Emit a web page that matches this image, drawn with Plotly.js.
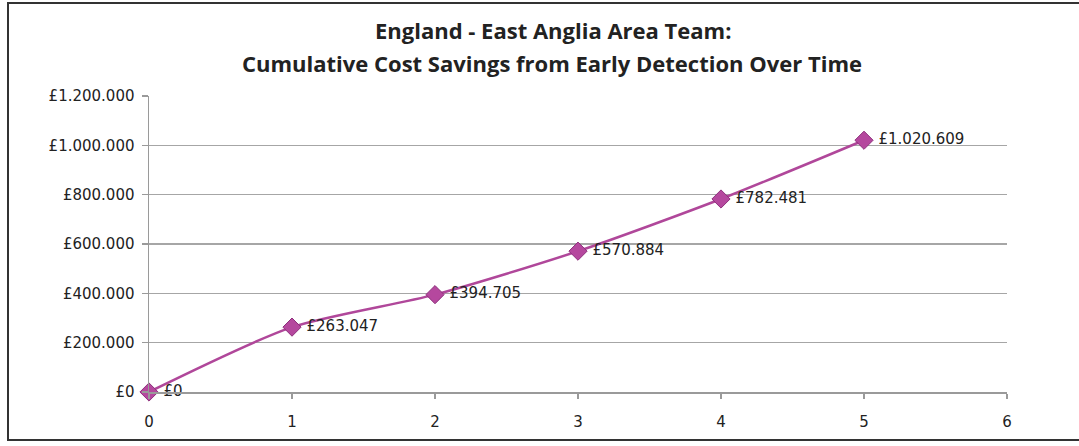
<!DOCTYPE html>
<html>
<head>
<meta charset="utf-8">
<script src="https://cdn.plot.ly/plotly-3.0.1.min.js"></script>
<style>
html,body{margin:0;padding:0;background:#fff;}
#chart{width:1079px;height:446px;}
</style>
</head>
<body>
<div id="chart"></div>
<script>
var years = [0, 1, 2, 3, 4, 5];
var savings = [0, 263047, 394705, 570884, 782481, 1020609];
var labels = ['£0', '£263.047', '£394.705', '£570.884', '£782.481', '£1.020.609'];
var yTickVals = [0, 200000, 400000, 600000, 800000, 1000000, 1200000];
var yTickText = ['£0', '£200.000', '£400.000', '£600.000', '£800.000', '£1.000.000', '£1.200.000'];
var xTickVals = [0, 1, 2, 3, 4, 5, 6];
var titleLines = ['England - East Anglia Area Team:', 'Cumulative Cost Savings from Early Detection Over Time'];

var trace = {
  x: years, y: savings, text: labels.map(function (s) { return '\u00a0' + s; }),
  type: 'scatter', mode: 'lines+markers+text',
  textposition: 'middle right',
  textfont: {family: '"DejaVu Sans", sans-serif', size: 15, color: '#222'},
  line: {color: '#B0479A', width: 2.5, shape: 'spline', smoothing: 0.7},
  marker: {symbol: 'diamond', size: 14, color: '#B5489E', line: {color: '#8E2F7C', width: 1}},
  cliponaxis: false,
  hoverinfo: 'none'
};

var W = 858, H = 296;
function py(p) { return (392 - p) / H; }
function px(p) { return (p - 149) / W; }

var layout = {
  width: 1079, height: 446,
  margin: {l: 149, r: 72, t: 96, b: 54},
  paper_bgcolor: '#fff', plot_bgcolor: '#fff',
  showlegend: false,
  font: {family: '"DejaVu Sans", sans-serif', size: 15, color: '#222'},
  xaxis: {
    range: [0, 6], tickvals: xTickVals, ticktext: xTickVals.map(String),
    showgrid: false, zeroline: false,
    showline: true, linecolor: '#9a9a9a', linewidth: 1.5,
    ticks: 'outside', ticklen: 5, tickcolor: '#9a9a9a', tickwidth: 1.5,
    ticklabelstandoff: 10,
    tickfont: {size: 15}
  },
  yaxis: {
    range: [0, 1200000], tickvals: yTickVals, ticktext: yTickText,
    showgrid: true, gridcolor: '#a6a6a6', gridwidth: 1.5,
    zeroline: false,
    showline: true, linecolor: '#9a9a9a', linewidth: 1.5,
    ticks: 'outside', ticklen: 6, tickcolor: '#9a9a9a', tickwidth: 1.5,
    ticklabelstandoff: 4,
    tickfont: {size: 15}
  },
  annotations: [
    {text: '<b>' + titleLines[0] + '</b>', xref: 'paper', yref: 'paper', x: px(553), y: py(30),
     xanchor: 'center', yanchor: 'middle', showarrow: false,
     font: {family: '"Open Sans", sans-serif', size: 22, color: '#222'}},
    {text: '<b>' + titleLines[1] + '</b>', xref: 'paper', yref: 'paper', x: px(552), y: py(63),
     xanchor: 'center', yanchor: 'middle', showarrow: false,
     font: {family: '"Open Sans", sans-serif', size: 22, color: '#222'}}
  ],
  shapes: [{
    type: 'rect', xref: 'paper', yref: 'paper', layer: 'above',
    x0: px(8), x1: px(1090),
    y0: py(440), y1: py(3),
    line: {color: '#333', width: 2}, fillcolor: 'rgba(0,0,0,0)'
  }]
};

Plotly.newPlot('chart', [trace], layout, {staticPlot: true, displayModeBar: false});
</script>
</body>
</html>
